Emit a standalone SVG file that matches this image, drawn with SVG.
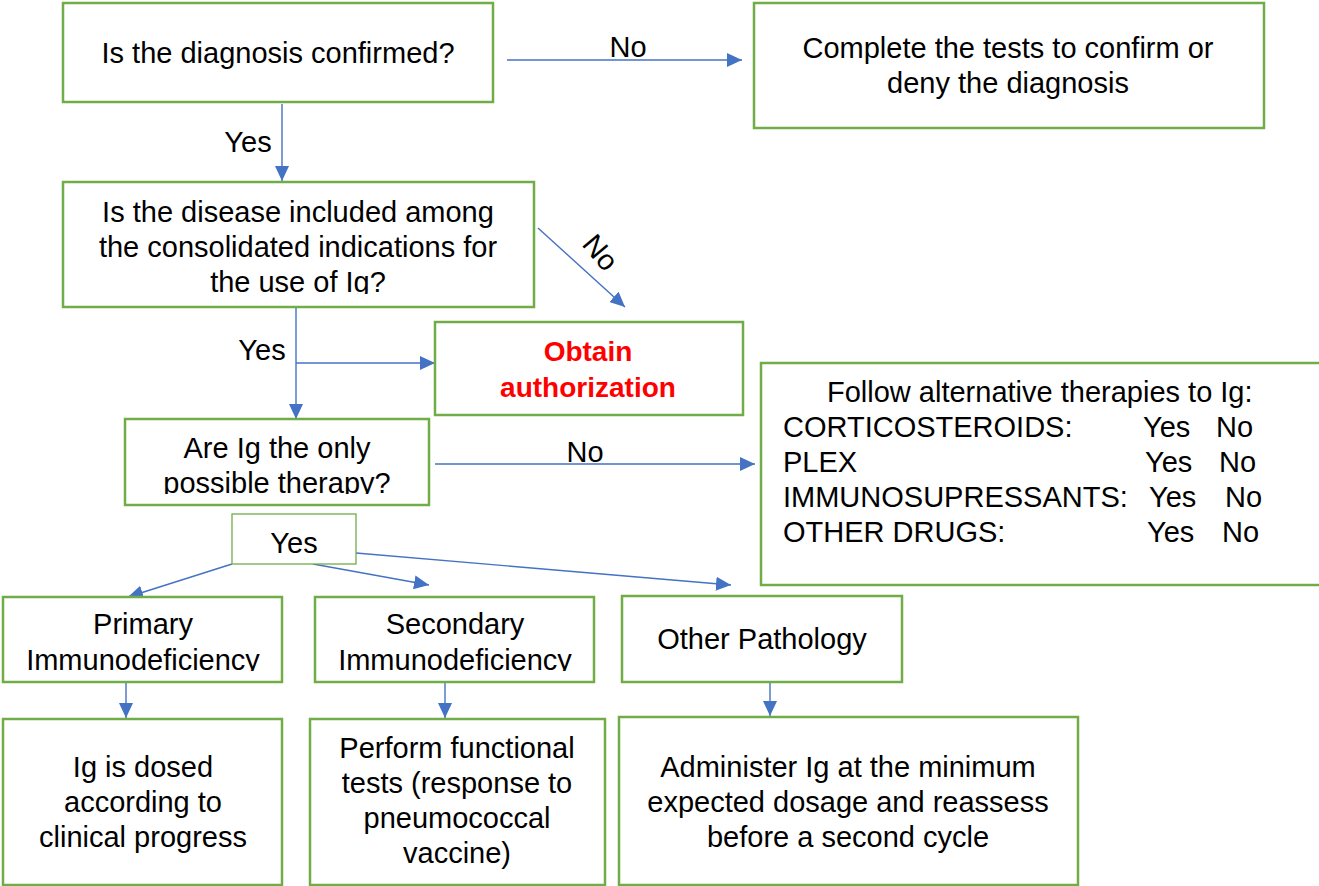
<svg xmlns="http://www.w3.org/2000/svg" width="1319" height="886" viewBox="0 0 1319 886">
<style>
.box{fill:#fff;stroke:#70AD47;stroke-width:2.5}
.thin{fill:#fff;stroke:#70AD47;stroke-width:1.3}
.t{font-family:"Liberation Sans",Arial,Helvetica,sans-serif;font-size:29px;fill:#000}
.c{text-anchor:middle}
.red{fill:#FF0000;font-weight:bold;font-size:28px}
.ln{stroke:#4472C4;stroke-width:1.4;fill:none}
</style>
<defs>
<marker id="ah" markerUnits="userSpaceOnUse" markerWidth="16" markerHeight="14" refX="15" refY="7" orient="auto">
<path d="M0,0 L15,7 L0,14 Z" fill="#4472C4"/>
</marker>
<clipPath id="c3"><rect x="63" y="182" width="471" height="112"/></clipPath>
<clipPath id="c4"><rect x="125" y="419" width="304" height="75"/></clipPath>
<clipPath id="cp"><rect x="0" y="596" width="700" height="75"/></clipPath>
</defs>

<g id="connectors">
<line class="ln" x1="507" y1="60" x2="742" y2="60" marker-end="url(#ah)"/>
<text class="t c" x="628" y="57">No</text>
<line class="ln" x1="282" y1="104" x2="282" y2="181" marker-end="url(#ah)"/>
<text class="t c" x="248" y="152">Yes</text>
<line class="ln" x1="538" y1="228" x2="625" y2="307" marker-end="url(#ah)"/>
<text class="t c" transform="translate(593,259) rotate(50)">No</text>
<line class="ln" x1="296" y1="307" x2="296" y2="419" marker-end="url(#ah)"/>
<line class="ln" x1="296" y1="363" x2="435" y2="363" marker-end="url(#ah)"/>
<text class="t c" x="262" y="360">Yes</text>
<line class="ln" x1="435" y1="464" x2="755" y2="464" marker-end="url(#ah)"/>
<text class="t c" x="585" y="462">No</text>
<line class="ln" x1="232" y1="564" x2="128" y2="597" marker-end="url(#ah)"/>
<line class="ln" x1="313" y1="564" x2="429" y2="585" marker-end="url(#ah)"/>
<line class="ln" x1="356" y1="553" x2="731" y2="585" marker-end="url(#ah)"/>
<line class="ln" x1="126" y1="682" x2="126" y2="718" marker-end="url(#ah)"/>
<line class="ln" x1="445" y1="682" x2="445" y2="718" marker-end="url(#ah)"/>
<line class="ln" x1="770" y1="682" x2="770" y2="716" marker-end="url(#ah)"/>
</g>

<g id="n-diagnosis">
<rect class="box" x="63" y="3" width="430" height="99"/>
<text class="t c" x="278" y="63">Is the diagnosis confirmed?</text>
</g>

<g id="n-complete">
<rect class="box" x="754" y="3" width="510" height="125"/>
<text class="t c" x="1008" y="58">Complete the tests to confirm or</text>
<text class="t c" x="1008" y="93">deny the diagnosis</text>
</g>

<g id="n-disease">
<rect class="box" x="63" y="182" width="471" height="125"/>
<g clip-path="url(#c3)">
<text class="t c" x="298" y="222">Is the disease included among</text>
<text class="t c" x="298" y="257">the consolidated indications for</text>
<text class="t c" x="298" y="292">the use of Ig?</text>
</g>
</g>

<g id="n-authorization">
<rect class="box" x="435" y="322" width="308" height="93"/>
<text class="t c red" x="588" y="361">Obtain</text>
<text class="t c red" x="588" y="397">authorization</text>
</g>

<g id="n-only">
<rect class="box" x="125" y="419" width="304" height="86"/>
<g clip-path="url(#c4)">
<text class="t c" x="277" y="458">Are Ig the only</text>
<text class="t c" x="277" y="493">possible therapy?</text>
</g>
</g>

<g id="n-alternative">
<rect class="box" x="761" y="363" width="562" height="222"/>
<text class="t" x="827" y="402">Follow alternative therapies to Ig:</text>
<text class="t" x="783" y="437">CORTICOSTEROIDS:</text>
<text class="t" x="1143" y="437">Yes</text>
<text class="t" x="1216" y="437">No</text>
<text class="t" x="783" y="472">PLEX</text>
<text class="t" x="1145" y="472">Yes</text>
<text class="t" x="1219" y="472">No</text>
<text class="t" x="783" y="507">IMMUNOSUPRESSANTS:</text>
<text class="t" x="1149" y="507">Yes</text>
<text class="t" x="1225" y="507">No</text>
<text class="t" x="783" y="542">OTHER DRUGS:</text>
<text class="t" x="1147" y="542">Yes</text>
<text class="t" x="1222" y="542">No</text>
</g>

<g id="n-yes">
<rect class="thin" x="232" y="514" width="124" height="50"/>
<text class="t c" x="294" y="553">Yes</text>
</g>

<g id="n-primary">
<rect class="box" x="3" y="597" width="279" height="85"/>
<g clip-path="url(#cp)">
<text class="t c" x="143" y="634">Primary</text>
<text class="t c" x="143" y="670">Immunodeficiency</text>
</g>
</g>

<g id="n-secondary">
<rect class="box" x="315" y="597" width="279" height="85"/>
<g clip-path="url(#cp)">
<text class="t c" x="455" y="634">Secondary</text>
<text class="t c" x="455" y="670">Immunodeficiency</text>
</g>
</g>

<g id="n-other">
<rect class="box" x="622" y="596" width="280" height="86"/>
<text class="t c" x="762" y="649">Other Pathology</text>
</g>

<g id="n-dosed">
<rect class="box" x="3" y="719" width="279" height="166"/>
<text class="t c" x="143" y="777">Ig is dosed</text>
<text class="t c" x="143" y="812">according to</text>
<text class="t c" x="143" y="847">clinical progress</text>
</g>

<g id="n-functional">
<rect class="box" x="310" y="719" width="295" height="166"/>
<text class="t c" x="457" y="758">Perform functional</text>
<text class="t c" x="457" y="793">tests (response to</text>
<text class="t c" x="457" y="828">pneumococcal</text>
<text class="t c" x="457" y="863">vaccine)</text>
</g>

<g id="n-administer">
<rect class="box" x="619" y="717" width="459" height="168"/>
<text class="t c" x="848" y="777">Administer Ig at the minimum</text>
<text class="t c" x="848" y="812">expected dosage and reassess</text>
<text class="t c" x="848" y="847">before a second cycle</text>
</g>
</svg>
